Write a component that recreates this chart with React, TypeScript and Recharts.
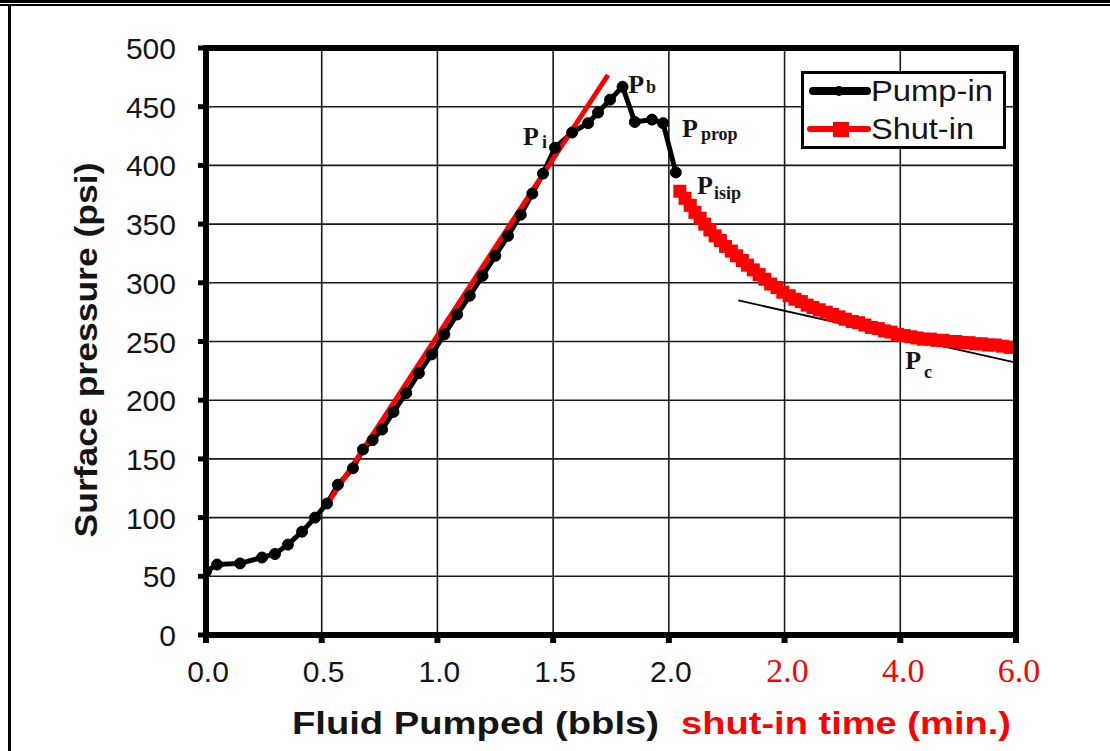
import React from 'react';
import {
  ComposedChart,
  Line,
  XAxis,
  YAxis,
  CartesianGrid,
  ReferenceLine,
  ReferenceDot,
  Legend,
} from 'recharts';

// pump-in stage: fluid pumped (bbls) vs surface pressure (psi)
const pumpInVolume = [
  0.0, 0.048, 0.147, 0.242, 0.298, 0.354, 0.415, 0.471, 0.523, 0.57, 0.635, 0.678, 0.72, 0.761,
  0.81, 0.865, 0.92, 0.975, 1.03, 1.085, 1.14, 1.195, 1.25, 1.305, 1.36, 1.41, 1.456, 1.508,
  1.582, 1.651, 1.694, 1.746, 1.8, 1.853, 1.927, 1.975, 2.03,
];
const pumpInPressure = [
  54, 60, 61, 66, 69, 77, 88, 100, 112, 128, 142, 158, 166, 175,
  190, 206, 223, 239, 256, 273, 289, 306, 323, 340, 358, 376, 393, 415,
  428, 436, 445, 456, 467, 437, 439, 436, 394,
];

// shut-in stage: time since shut-in (min.) vs surface pressure (psi)
const shutInTime = [
  0.19, 0.28, 0.37, 0.45, 0.54, 0.62, 0.71, 0.8, 0.89, 0.98, 1.08, 1.17, 1.27, 1.36,
  1.46, 1.56, 1.66, 1.76, 1.87, 1.97, 2.08, 2.18, 2.29, 2.39, 2.49, 2.6, 2.72, 2.83,
  2.94, 3.05, 3.17, 3.28, 3.39, 3.5, 3.62, 3.73, 3.84, 3.95, 4.07, 4.18, 4.29, 4.4,
  4.52, 4.63, 4.74, 4.85, 4.96, 5.07, 5.19, 5.3, 5.41, 5.52, 5.64, 5.77, 5.9,
];
const shutInPressure = [
  378, 372, 366, 360, 355, 350, 345, 340, 336, 331, 327, 323, 319, 315,
  311, 307, 303, 299, 296, 292, 289, 286, 284, 281, 279, 277, 275, 273,
  271, 269, 267, 266, 264, 262, 261, 259, 258, 256, 255, 254, 253, 252,
  252, 251, 251, 250, 250, 249, 249, 248, 248, 247, 247, 246, 245,
];

// straight fit on the linear pump-in part
const fitVolume = [0.536, 1.737];
const fitPressure = [115, 477];

// tangent to the late shut-in decline (x on the shared axis)
const tangentX = [2.3, 3.5];
const tangentPressure = [285, 232];

const yTicks = [0, 50, 100, 150, 200, 250, 300, 350, 400, 450, 500];
const xTicks = [0, 0.5, 1.0, 1.5, 2.0, 2.5, 3.0, 3.5];
const xTickLabels = ['0.0', '0.5', '1.0', '1.5', '2.0', '2.0', '4.0', '6.0'];

// shut-in minutes are drawn on the right part of the x axis: 2.0 bbl + t / 4
const SHUT_IN_ORIGIN = 2.0;
const MIN_PER_UNIT = 4;

const annotations = [
  { main: 'P', sub: 'i', x: 1.37, y: 417, dx: 3, dy: 3 },
  { main: 'P', sub: 'b', x: 1.824, y: 462, dx: 2, dy: 0 },
  { main: 'P', sub: 'prop', x: 2.057, y: 424, dx: 3, dy: 3 },
  { main: 'P', sub: 'isip', x: 2.122, y: 376, dx: 1, dy: 5 },
  { main: 'P', sub: 'c', x: 3.021, y: 227, dx: 3, dy: 9 },
];

const pumpIn = pumpInVolume.map((x, i) => ({ x, y: pumpInPressure[i] }));
const shutIn = shutInTime.map((t, i) => ({ x: SHUT_IN_ORIGIN + t / MIN_PER_UNIT, y: shutInPressure[i] }));
const fit = fitVolume.map((x, i) => ({ x, y: fitPressure[i] }));
const tangent = tangentX.map((x, i) => ({ x, y: tangentPressure[i] }));

const SANS = '"Liberation Sans", Arial, sans-serif';
const SERIF = '"Liberation Serif", "Times New Roman", serif';
const INK = '#151515';

const XTick = (props: any) => {
  const { x, payload, index } = props;
  const red = payload.value > SHUT_IN_ORIGIN;
  const i = index ?? xTicks.indexOf(payload.value);
  return (
    <text
      x={red ? x + 3 : x + 2}
      y={682}
      textAnchor="middle"
      fontFamily={red ? SERIF : SANS}
      fontSize={red ? 34 : 30}
      fill={red ? '#ff0000' : INK}
    >
      {xTickLabels[i]}
    </text>
  );
};

const YTick = (props: any) => {
  const { y, payload } = props;
  return (
    <text x={176} y={y + 11} textAnchor="end" fontFamily={SANS} fontSize={30} fill={INK}>
      {payload.value}
    </text>
  );
};

const SquareDot = (props: any) => {
  const { cx, cy, index } = props;
  if (cx == null || cy == null) return <g key={`s${index}`} />;
  return <rect key={`s${index}`} x={cx - 6.5} y={cy - 6.5} width={13} height={13} fill="#ff0000" />;
};

const renderLegend = () => (
  <div
    style={{
      width: 205,
      height: 78,
      border: '3px solid #000',
      boxSizing: 'border-box',
      background: '#fff',
    }}
  >
    <svg width={199} height={72} style={{ display: 'block' }}>
      <line x1={9} y1={17} x2={63} y2={17} stroke="#000" strokeWidth={8} strokeLinecap="round" />
      <circle cx={35} cy={17} r={5} fill="#000" />
      <text
        x={67}
        y={27}
        fontFamily={SANS}
        fontSize={30}
        fill={INK}
        textLength={122}
        lengthAdjust="spacingAndGlyphs"
      >
        Pump-in
      </text>
      <line x1={6} y1={55} x2={64} y2={55} stroke="#ff0000" strokeWidth={6} strokeLinecap="round" />
      <rect x={29} y={48} width={16} height={15} fill="#ff0000" />
      <text
        x={67}
        y={65}
        fontFamily={SANS}
        fontSize={30}
        fill={INK}
        textLength={103}
        lengthAdjust="spacingAndGlyphs"
      >
        Shut-in
      </text>
    </svg>
  </div>
);

const annotationLabel = (a: (typeof annotations)[number]) => (props: any) => {
  const vb = props.viewBox || {};
  return (
    <text x={vb.x} y={vb.y} fontFamily={SERIF} fontWeight="bold" fontSize={26} fill={INK}>
      <tspan>{a.main}</tspan>
      <tspan dx={a.dx} dy={a.dy} fontSize={18}>
        {a.sub}
      </tspan>
    </text>
  );
};

const YTitle = () => (
  <text
    x={97}
    y={350}
    transform="rotate(-90, 97, 350)"
    textAnchor="middle"
    fontFamily={SANS}
    fontWeight="bold"
    fontSize={31}
    fill={INK}
    textLength={375}
    lengthAdjust="spacingAndGlyphs"
  >
    Surface pressure (psi)
  </text>
);

const XTitle = () => (
  <g>
    <text
      x={292}
      y={734}
      fontFamily={SANS}
      fontWeight="bold"
      fontSize={31}
      fill={INK}
      textLength={367}
      lengthAdjust="spacingAndGlyphs"
    >
      Fluid Pumped (bbls)
    </text>
    <text
      x={681}
      y={734}
      fontFamily={SANS}
      fontWeight="bold"
      fontSize={31}
      fill="#ff0000"
      textLength={330}
      lengthAdjust="spacingAndGlyphs"
    >
      shut-in time (min.)
    </text>
  </g>
);

export default function App() {
  return (
    <div style={{ position: 'relative', width: 1110, height: 751, background: '#fff' }}>
      <style>{'body{margin:0}'}</style>
      <div style={{ position: 'absolute', left: 0, top: 0, width: 1110, height: 3, background: '#000' }} />
      <div style={{ position: 'absolute', left: 0, top: 4, width: 1110, height: 2, background: '#000' }} />
      <div style={{ position: 'absolute', left: 8, top: 4, width: 3, height: 747, background: '#000' }} />
      <ComposedChart width={1110} height={751} margin={{ top: 48, right: 94, bottom: 0, left: 0 }}>
        <CartesianGrid stroke="#1a1a1a" strokeWidth={1.6} />
        <XAxis
          type="number"
          dataKey="x"
          domain={[0, 3.5]}
          ticks={xTicks}
          interval={0}
          height={116}
          tickSize={8}
          axisLine={{ stroke: '#000', strokeWidth: 6 }}
          tickLine={{ stroke: '#000', strokeWidth: 6 }}
          tick={<XTick />}
          label={<XTitle />}
          allowDataOverflow
        />
        <YAxis
          type="number"
          dataKey="y"
          domain={[0, 500]}
          ticks={yTicks}
          interval={0}
          width={206}
          tickSize={8}
          axisLine={{ stroke: '#000', strokeWidth: 6 }}
          tickLine={{ stroke: '#000', strokeWidth: 5 }}
          tick={<YTick />}
          label={<YTitle />}
          allowDataOverflow
        />
        <ReferenceLine y={500} stroke="#000" strokeWidth={6} ifOverflow="visible" />
        <ReferenceLine x={3.5} stroke="#000" strokeWidth={6} ifOverflow="visible" />
        <ReferenceLine x={0} stroke="#000" strokeWidth={6} ifOverflow="visible" />
        <Line
          data={tangent}
          dataKey="y"
          stroke="#000"
          strokeWidth={1.8}
          dot={false}
          isAnimationActive={false}
          legendType="none"
        />
        <Line
          name="Pump-in"
          data={pumpIn}
          dataKey="y"
          stroke="#000"
          strokeWidth={5}
          dot={{ r: 5.5, fill: '#000', stroke: '#000', strokeWidth: 1 }}
          isAnimationActive={false}
        />
        <Line
          data={fit}
          dataKey="y"
          stroke="#ff0000"
          strokeWidth={5}
          dot={false}
          isAnimationActive={false}
          legendType="none"
        />
        <Line
          name="Shut-in"
          data={shutIn}
          dataKey="y"
          stroke="#ff0000"
          strokeWidth={5}
          dot={SquareDot}
          isAnimationActive={false}
        />
        {annotations.map((a) => (
          <ReferenceDot
            key={a.sub}
            x={a.x}
            y={a.y}
            r={0}
            fill="none"
            stroke="none"
            label={annotationLabel(a)}
          />
        ))}
        <Legend
          layout="horizontal"
          verticalAlign="middle"
          align="center"
          content={renderLegend}
          wrapperStyle={{ left: 801, top: 71, width: 205, height: 78 }}
        />
      </ComposedChart>
      <div
        style={{
          position: 'absolute',
          left: 203,
          top: 45,
          width: 816,
          height: 593,
          border: '6px solid #000',
          boxSizing: 'border-box',
          pointerEvents: 'none',
        }}
      />
    </div>
  );
}
